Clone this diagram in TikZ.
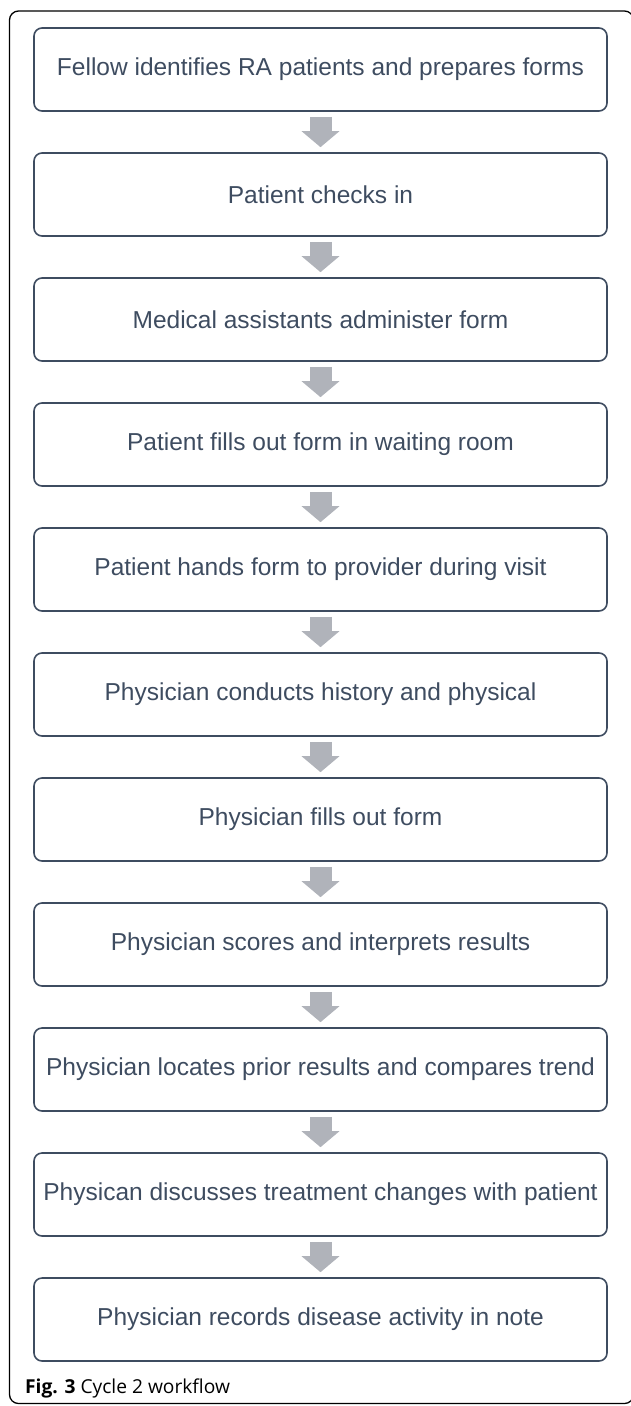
\documentclass[tikz,border=0pt]{standalone}
\usepackage{fontspec}
\setmainfont{Liberation Sans}
\newfontfamily\capfont{Open Sans}
\usetikzlibrary{arrows.meta,positioning}
\definecolor{myslate}{RGB}{62,76,96}
\definecolor{mygrey}{RGB}{176,179,186}
\tikzset{>=latex}
\begin{document}
\begin{tikzpicture}[x=1pt, y=-1pt, stepbox/.style = {draw=myslate, line width=1.6pt, rounded corners=8pt, minimum width=573pt, minimum height=83pt, inner sep=0pt, text=myslate, font=\fontsize{24.5}{28}\selectfont}, flow/.style = {draw=mygrey, line width=22pt, -{Triangle[width=37pt,length=16pt]}, shorten <=5pt, shorten >=5pt}]
    \useasboundingbox (0,0) rectangle (630,1406);
    \draw[line width=1.3pt, rounded corners=9pt] (9.5,11) rectangle (633.5,1403.5);
    \foreach \txt [count=\i] in {Fellow identifies RA patients and prepares forms, Patient checks in, Medical assistants administer form, Patient fills out form in waiting room, Patient hands form to provider during visit, Physician conducts history and physical, Physician fills out form, Physician scores and interprets results, Physician locates prior results and compares trend, Physican discusses treatment changes with patient, Physician records disease activity in note}
    {%
        \node[stepbox] (s\i) at (320.5, {69.5+125*(\i-1)}) {\txt};
    };
    \foreach \i in {1,...,10}
    {%
        \pgfmathtruncatemacro{\j}{\i + 1};
        \draw[flow] (s\i) -- (s\j);
    };
    \node[anchor=base west, inner sep=0pt, font=\capfont\fontsize{19.2}{22}\selectfont] (cap) at (25,1393) {\textbf{Fig. 3} Cycle 2 workflow};
\end{tikzpicture}
\end{document}
